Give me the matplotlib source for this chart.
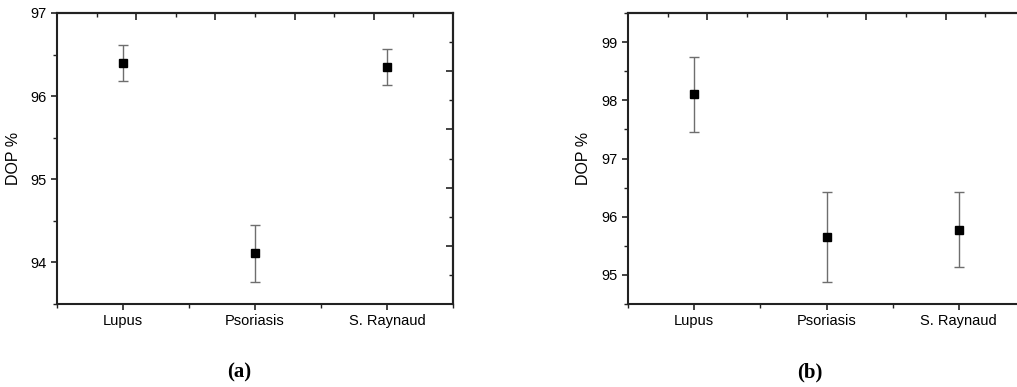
import matplotlib.pyplot as plt
import numpy as np

plt.rcParams['font.family'] = ['Liberation Sans', 'DejaVu Sans']

groups = ['Lupus', 'Psoriasis', 'S. Raynaud']

# panel (a)
dop_a = [96.40, 94.11, 96.35]
err_a = [0.22, 0.34, 0.22]
# panel (b)
dop_b = [98.10, 95.65, 95.78]
err_b = [0.64, 0.77, 0.645]

W, H = 1017, 387
fig = plt.figure(figsize=(W / 100, H / 100), dpi=100)

def px_axes(x0, y0, x1, y1):
    return fig.add_axes([x0 / W, 1 - y1 / H, (x1 - x0) / W, (y1 - y0) / H])

def panel(ax, vals, errs, ylim, yticks, ymin, letter, lx, right_ticks=None):
    x = np.arange(1, len(groups) + 1)
    ax.errorbar(x, vals, yerr=errs, fmt='s', color='black', ms=5.5,
                ecolor='#6e6e6e', elinewidth=1.0, capsize=3.5, capthick=1.0)
    ax.set_xlim(0.5, 3.5)
    ax.set_ylim(*ylim)
    ax.set_xticks(x)
    ax.set_xticklabels(groups, fontsize=10.5)
    ax.set_xticks([0.5, 1.5, 2.5, 3.5], minor=True)
    ax.set_yticks(yticks)
    ax.set_yticklabels([str(t) for t in yticks], fontsize=10.5)
    ax.set_yticks(ymin, minor=True)
    ax.tick_params(which='major', direction='out', length=4, width=1.2, color='#222222')
    ax.tick_params(which='minor', direction='out', length=3, width=1.0, color='#222222')
    ax.tick_params(axis='x', pad=3)
    for s in ax.spines.values():
        s.set_linewidth(1.5)
        s.set_color('#222222')
    ax.set_ylabel('DOP %', fontsize=11.5)
    # top axis ticks (inward, its own spacing)
    top = ax.secondary_xaxis('top')
    top.set_xticks([1.1, 1.7, 2.3, 2.9])
    top.set_xticks([0.8, 1.4, 2.0, 2.6, 3.2], minor=True)
    top.tick_params(which='major', direction='in', length=5, width=1.2, labeltop=False, color='#222222')
    top.tick_params(which='minor', direction='in', length=3, width=1.0, labeltop=False, color='#222222')
    top.spines['top'].set_linewidth(1.5)
    if right_ticks is not None:
        rt = ax.secondary_yaxis('right')
        rt.set_yticks(right_ticks[0])
        rt.set_yticks(right_ticks[1], minor=True)
        rt.tick_params(which='major', direction='in', length=5, width=1.2, labelright=False, color='#222222')
        rt.tick_params(which='minor', direction='in', length=3, width=1.0, labelright=False, color='#222222')
        rt.spines['right'].set_linewidth(1.5)
    fig.text(lx / W, 1 - 372 / H, letter, fontsize=15, fontweight='bold',
             family='Liberation Serif', ha='center', va='center')

ax1 = px_axes(57, 13, 453, 304)
panel(ax1, dop_a, err_a, (93.5, 97), [94, 95, 96, 97], [93.5, 94.5, 95.5, 96.5],
      '(a)', 239,
      right_ticks=([96.3, 95.6, 94.9, 94.2], [96.65, 95.95, 95.25, 94.55, 93.85]))
ax1.yaxis.set_label_coords(-0.09, 0.5)

ax2 = px_axes(628, 13, 1025, 304)
panel(ax2, dop_b, err_b, (94.5, 99.5), [95, 96, 97, 98, 99],
      [94.5, 95.5, 96.5, 97.5, 98.5, 99.5], '(b)', 810)
ax2.yaxis.set_label_coords(-0.092, 0.5)

fig.savefig('out.png', dpi=100)
